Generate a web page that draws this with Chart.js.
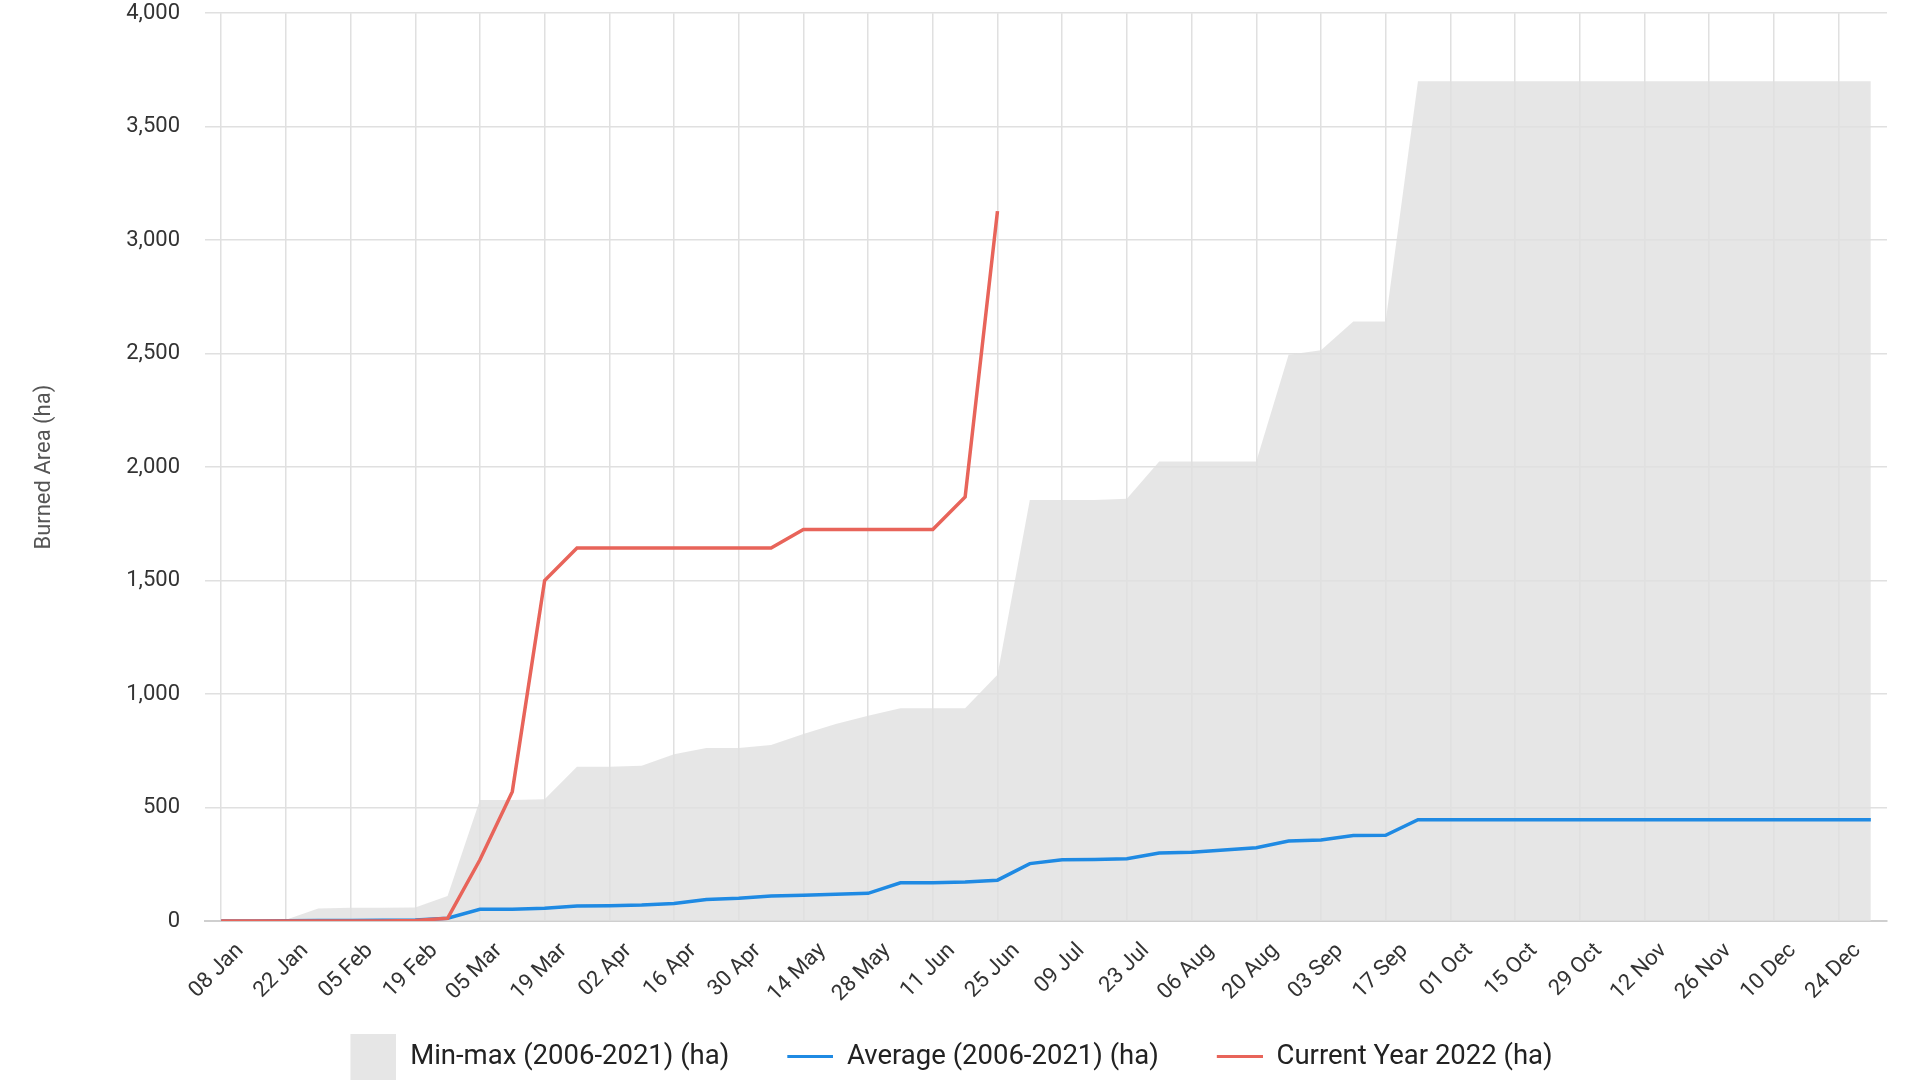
<!DOCTYPE html>
<html>
<head>
<meta charset="utf-8">
<script src="https://cdn.jsdelivr.net/npm/chart.js@4.4.0/dist/chart.umd.min.js"></script>
<style>
  html, body { margin: 0; padding: 0; background: #ffffff; }
  #wrap { width: 1920px; height: 1080px; position: relative; }
</style>
</head>
<body>
<div id="wrap"><canvas id="c" width="1920" height="1080"></canvas></div>
<script>
// ---- categories (weekly) ----
const weeks = ['08 Jan','15 Jan','22 Jan','29 Jan','05 Feb','12 Feb','19 Feb','26 Feb',
  '05 Mar','12 Mar','19 Mar','26 Mar','02 Apr','09 Apr','16 Apr','23 Apr','30 Apr',
  '07 May','14 May','21 May','28 May','04 Jun','11 Jun','18 Jun','25 Jun',
  '02 Jul','09 Jul','16 Jul','23 Jul','30 Jul','06 Aug','13 Aug','20 Aug','27 Aug',
  '03 Sep','10 Sep','17 Sep','24 Sep','01 Oct','08 Oct','15 Oct','22 Oct','29 Oct',
  '05 Nov','12 Nov','19 Nov','26 Nov','03 Dec','10 Dec','17 Dec','24 Dec','31 Dec'];

// ---- series (ha) ----
const minValues = [0,0,0,0,0,0,0,0,0,0,0,0,0,0,0,0,0,0,0,0,0,0,0,0,0,0,
  0,0,0,0,0,0,0,0,0,0,0,0,0,0,0,0,0,0,0,0,0,0,0,0,0,0];
const maxValues = [0,0,5,55,58,58,60,110,533,533,537,680,680,684,735,762,762,775,824,868,904,937,937,937,1085,1855,
  1855,1855,1860,2025,2025,2025,2025,2495,2515,2642,2642,3700,3700,3700,3700,3700,3700,3700,3700,3700,3700,3700,3700,3700,3700,3700];
const avgValues = [0,0,1,2,2,3,4,12,52,52,56,66,67,70,77,95,100,110,113,118,122,168,168,172,180,253,
  270,271,274,300,303,313,323,352,357,377,378,446,446,446,446,446,446,446,446,446,446,446,446,446,446,446];
const currentValues = [0,0,0,0,0,0,2,12,270,570,1500,1643,1643,1643,1643,1643,1643,1643,1725,1725,1725,1725,1725,1868,3128,
  null,null,null,null,null,null,null,null,null,null,null,null,null,null,null,null,null,null,null,null,null,null,null,null,null,null,null];

// ---- labels ----
const seriesLabels = ['Min-max (2006-2021) (ha)', 'Average (2006-2021) (ha)', 'Current Year 2022 (ha)'];
const yAxisTitle = 'Burned Area (ha)';

const COL_BAND = 'rgba(224,224,224,0.8)';
const COL_BAND_KEY = '#e6e6e6';
const COL_AVG = '#1f8ae3';
const COL_CUR = '#e8645a';
const COL_GRID = '#e0e0e0';
const FONT = 'Roboto';

// legend key images: key sits at the right of a 62px box (left part is spacing)
function makeKey(h, color) {
  const cv = document.createElement('canvas');
  cv.width = 62; cv.height = h;
  const cx = cv.getContext('2d');
  cx.fillStyle = color;
  cx.fillRect(16, 0, 46, h);
  return cv;
}
const keys = [makeKey(46, COL_BAND_KEY), makeKey(3, COL_AVG), makeKey(3, COL_CUR)];

new Chart(document.getElementById('c'), {
  type: 'line',
  data: {
    labels: weeks,
    datasets: [
      { label: 'min', data: minValues, borderWidth: 0, pointRadius: 0, fill: false, order: 3,
        borderColor: 'rgba(0,0,0,0)' },
      { label: seriesLabels[0], data: maxValues, borderWidth: 0, pointRadius: 0,
        borderColor: 'rgba(0,0,0,0)', backgroundColor: COL_BAND, fill: '-1', order: 2 },
      { label: seriesLabels[1], data: avgValues, borderColor: COL_AVG, borderWidth: 3.5,
        pointRadius: 0, fill: false, tension: 0, order: 1 },
      { label: seriesLabels[2], data: currentValues, borderColor: COL_CUR, borderWidth: 3.5,
        pointRadius: 0, fill: false, tension: 0, spanGaps: false, order: 0 }
    ]
  },
  options: {
    responsive: false,
    animation: false,
    devicePixelRatio: 1,
    layout: { padding: { top: 13, right: 33, bottom: 0, left: 0 } },
    plugins: {
      tooltip: { enabled: false },
      legend: {
        position: 'bottom',
        maxHeight: 79,
        labels: {
          font: { family: FONT, size: 27.5 },
          color: '#222222',
          padding: 42,
          usePointStyle: true,
          pointStyleWidth: 62,
          generateLabels: function () {
            return seriesLabels.map((t, i) => ({
              text: t,
              pointStyle: keys[i],
              fillStyle: 'rgba(0,0,0,0)',
              strokeStyle: 'rgba(0,0,0,0)',
              lineWidth: 0,
              hidden: false,
              datasetIndex: i + 1,
              fontColor: '#222222'
            }));
          }
        }
      }
    },
    scales: {
      x: {
        type: 'category',
        offset: true,
        grid: {
          offset: false,
          drawTicks: false,
          lineWidth: 1.5,
          color: (ctx) => (ctx.index % 2 === 0 ? COL_GRID : 'rgba(0,0,0,0)')
        },
        border: { display: true, color: '#cfcfcf', width: 2 },
        ticks: {
          autoSkip: false,
          maxRotation: 45,
          minRotation: 45,
          padding: 17,
          labelOffset: 19,
          color: '#333333',
          font: { family: FONT, size: 22 },
          callback: function (value, index) {
            return index % 2 === 0 ? this.getLabelForValue(value) : '';
          }
        },
        afterFit: (scale) => { scale.height = 80; }
      },
      y: {
        min: 0,
        max: 4000,
        grid: {
          drawTicks: true,
          tickLength: 25,
          tickColor: 'rgba(0,0,0,0)',
          lineWidth: 1.5,
          color: COL_GRID
        },
        border: { display: false },
        ticks: {
          stepSize: 500,
          padding: 0,
          color: '#333333',
          font: { family: FONT, size: 22 }
        },
        title: {
          display: true,
          text: yAxisTitle,
          color: '#555555',
          font: { family: FONT, size: 22 },
          padding: { top: 31, bottom: 0 }
        },
        afterFit: (scale) => { scale.width = 205; }
      }
    }
  }
});
</script>
</body>
</html>
